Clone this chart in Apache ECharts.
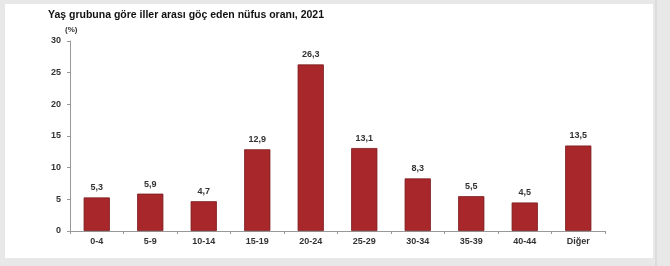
<!DOCTYPE html>
<html><head><meta charset="utf-8">
<script src="https://cdn.jsdelivr.net/npm/echarts@6/dist/echarts.min.js"></script>
<style>html,body{margin:0;padding:0;background:#e8e8e8;}#c{width:670px;height:266px;}</style>
</head><body><div id="c"></div>
<script>
const categories = ['0-4','5-9','10-14','15-19','20-24','25-29','30-34','35-39','40-44','Diğer'];
const values = [5.3, 5.9, 4.7, 12.9, 26.3, 13.1, 8.3, 5.5, 4.5, 13.5];
const yTicks = [0, 5, 10, 15, 20, 25, 30];
const titleText = 'Yaş grubuna göre iller arası göç eden nüfus oranı, 2021';
const unitText = '(%)';

const chart = echarts.init(document.getElementById('c'));
chart.setOption({
  animation: false,
  backgroundColor: '#e8e8e8',
  graphic: [
    { type: 'rect', z: -10, shape: { x: 5, y: 4, width: 648, height: 254 }, style: { fill: '#ffffff' } },
    { type: 'rect', z: -10, shape: { x: 655, y: 0, width: 2, height: 266 }, style: { fill: '#dcdcdc' } }
  ],
  title: [
    { text: titleText, left: 43, top: 5, textStyle: { fontFamily: 'Liberation Sans', fontSize: 10.5, fontWeight: 'bold', color: '#111' } },
    { text: unitText, left: 60, top: 21, textStyle: { fontFamily: 'Liberation Sans', fontSize: 8, fontWeight: 'bold', color: '#333' } }
  ],
  grid: { left: 70, right: 65, top: 41, bottom: 35 },
  xAxis: {
    type: 'category', data: categories,
    axisLine: { lineStyle: { color: '#999', width: 1 } },
    axisTick: { show: true, alignWithLabel: false, length: 3, lineStyle: { color: '#999' } },
    axisLabel: { fontFamily: 'Liberation Sans', fontSize: 9, fontWeight: 'bold', color: '#333', margin: 6 }
  },
  yAxis: {
    type: 'value', min: 0, max: 30, interval: 5,
    axisLine: { show: true, lineStyle: { color: '#999', width: 1 } },
    axisTick: { show: true, inside: false, length: 3, lineStyle: { color: '#999' } },
    splitLine: { show: false },
    axisLabel: { fontFamily: 'Liberation Sans', fontSize: 9, fontWeight: 'bold', color: '#333', margin: 9,
      formatter: v => yTicks.includes(v) ? String(v) : '' }
  },
  series: [{
    type: 'bar', data: values, barWidth: '49%',
    itemStyle: { color: '#a8272a', borderColor: '#7a1a1c', borderWidth: 0.8 },
    label: { show: true, position: 'top', distance: 5, fontFamily: 'Liberation Sans', fontSize: 9, fontWeight: 'bold', color: '#333',
      formatter: p => String(p.value.toFixed(1)).replace('.', ',') }
  }]
});
</script></body></html>
